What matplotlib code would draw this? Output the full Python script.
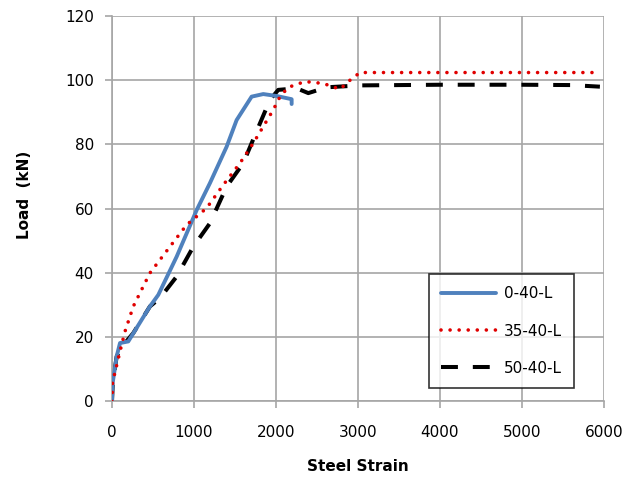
"""Load vs steel strain curves for three beam specimens."""

import matplotlib
matplotlib.use("Agg")
import matplotlib.pyplot as plt

# 0-40-L
strain_0 = [0, 8, 57, 98, 199, 463, 565, 789, 1033, 1195, 1398, 1520, 1703,
            1845, 2008, 2191, 2191]
load_0 = [0, 5.7, 14.0, 18.2, 18.7, 29.6, 33.2, 45.1, 59.6, 68.0, 79.3, 87.6,
          94.9, 95.7, 95.1, 94.1, 92.6]

# 35-40-L
strain_35 = [0, 8, 98, 159, 260, 463, 707, 911, 1033, 1154, 1357, 1561, 1723,
             1845, 1967, 2049, 2150, 2353, 2577, 2780, 2902, 3024, 4000, 5000,
             5950]
load_35 = [0, 6.0, 15.6, 21.8, 29.6, 40.0, 48.2, 55.0, 57.6, 60.2, 67.4, 74.2,
           80.4, 85.6, 90.8, 94.9, 97.8, 99.6, 99.0, 97.2, 100.0, 102.4, 102.4,
           102.4, 102.4]

# 50-40-L
strain_50 = [0, 10, 57, 120, 260, 463, 585, 789, 992, 1195, 1398, 1601, 1805,
             1927, 2028, 2252, 2394, 2618, 3024, 4000, 5000, 5600, 5950]
load_50 = [0, 5.7, 14.0, 17.0, 21.3, 29.6, 32.2, 38.9, 48.2, 55.5, 66.9, 74.2,
           86.6, 93.9, 97.0, 97.5, 96.0, 97.8, 98.4, 98.6, 98.6, 98.5, 98.0]

x_ticks = [0, 1000, 2000, 3000, 4000, 5000, 6000]
y_ticks = [0, 20, 40, 60, 80, 100, 120]

plt.rcParams["font.family"] = "DejaVu Sans"

fig = plt.figure(figsize=(6.38, 4.79), dpi=100)
ax = fig.add_axes([0.1755, 0.1618, 0.7712, 0.8048])

grid_col = "#a6a6a6"
ax.plot(strain_0, load_0, color="#4f81bd", lw=2.8, solid_capstyle="round",
        label="0-40-L", zorder=3)
# round dots: near-zero dash with round caps
ax.plot(strain_35, load_35, color="#e00000", lw=2.6, linestyle=(0, (0.01, 2.5)),
        dash_capstyle="round", label="35-40-L", zorder=4)
ax.plot(strain_50, load_50, color="black", lw=2.9, linestyle=(0, (4.2, 3.7)),
        label="50-40-L", zorder=2)

ax.set_xlim(0, 6000)
ax.set_ylim(0, 120)
ax.set_xticks(x_ticks)
ax.set_yticks(y_ticks)
ax.grid(True, color=grid_col, lw=1.2)
ax.set_axisbelow(True)

for side in ("top", "right"):
    ax.spines[side].set_visible(False)
for side in ("left", "bottom"):
    ax.spines[side].set_color(grid_col)
    ax.spines[side].set_linewidth(1.2)

ax.tick_params(axis="both", colors=grid_col, length=5, width=1.2,
               labelcolor="black", labelsize=11)
ax.tick_params(axis="x", pad=12)
ax.tick_params(axis="y", pad=8)

ax.set_xlabel("Steel Strain", fontsize=11, fontweight="bold")
ax.set_ylabel("Load  (kN)", fontsize=11, fontweight="bold")
ax.xaxis.set_label_coords(0.5, -0.15)
ax.yaxis.set_label_coords(-0.163, 0.535)

leg = ax.legend(loc="lower left", bbox_to_anchor=(0.644, 0.035),
                borderaxespad=0, fontsize=11, frameon=True, fancybox=False,
                handlelength=3.6, handletextpad=0.5, labelspacing=1.45,
                borderpad=0.8)
leg.get_frame().set_edgecolor("black")
leg.get_frame().set_linewidth(1.2)

fig.savefig("out.png", dpi=100)
